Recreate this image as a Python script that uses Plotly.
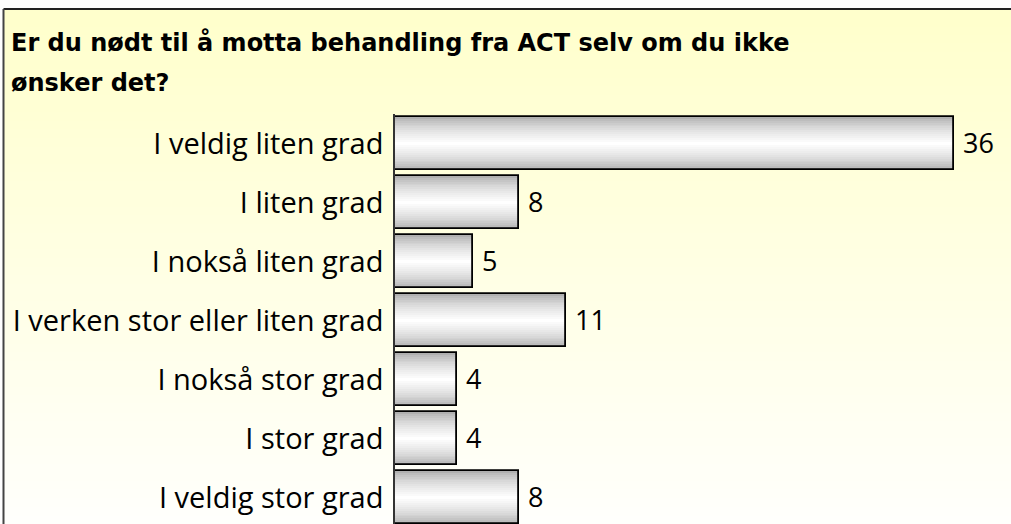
import plotly.graph_objects as go

categories = ["I veldig liten grad", "I liten grad", "I nokså liten grad",
              "I verken stor eller liten grad", "I nokså stor grad",
              "I stor grad", "I veldig stor grad"]
values = [36, 8, 5, 11, 4, 4, 8]
title_lines = ["Er du nødt til å motta behandling fra ACT selv om du ikke", "ønsker det?"]

W, H = 1011, 524
ML, MT = 395, 114
plot_w, plot_h = W - ML, H - MT
px_per_unit = 15.53
px_per_cat = 59

fig = go.Figure()

# gradient bars: layered bars from grey edge to white centre
N = 14
outer = 0.9
for k in range(N):
    frac = k / (N - 1)
    g = int(176 + (255 - 176) * (frac ** 0.7))
    fig.add_trace(go.Bar(
        y=categories, x=values, orientation="h",
        width=outer * (1 - k / N),
        marker=dict(color=f"rgb({g},{g},{g})", line=dict(width=0)),
        hoverinfo="skip", showlegend=False))

fig.add_trace(go.Bar(
    y=categories, x=values, orientation="h", width=outer,
    marker=dict(color="rgba(0,0,0,0)", line=dict(color="#000000", width=1.8)),
    text=values, texttemplate=" %{x}", textposition="outside",
    textfont=dict(family="Open Sans", size=27, color="#000000"),
    cliponaxis=False, showlegend=False))

# background gradient (yellow to white) + border
shapes = []
left_x = -ML / plot_w
bx = left_x + 3.5 / plot_w
n_bg = 60
y_start = 1 + (MT - 9) / plot_h  # border top in paper coords
for i in range(n_bg):
    y0 = y_start - y_start * i / n_bg
    y1 = y_start - y_start * (i + 1) / n_bg
    t = i / (n_bg - 1)
    b = int(204 + (252 - 204) * t)
    shapes.append(dict(type="rect", xref="paper", yref="paper",
                       x0=bx, x1=1.01, y0=y1 - 0.002, y1=y0,
                       fillcolor=f"rgb(255,255,{b})", line=dict(width=0), layer="below"))
shapes.append(dict(type="line", xref="paper", yref="paper",
                   x0=bx, x1=1.01, y0=y_start, y1=y_start,
                   line=dict(color="#222222", width=2)))
shapes.append(dict(type="line", xref="paper", yref="paper",
                   x0=bx, x1=bx, y0=-0.01, y1=y_start,
                   line=dict(color="#444444", width=2)))

annotations = []
for i, line in enumerate(title_lines):
    ypix = 42 + 41 * i
    annotations.append(dict(
        text=f"<b>{line}</b>", xref="paper", yref="paper",
        x=left_x + 9 / plot_w, y=1 + (MT - ypix) / plot_h,
        xanchor="left", yanchor="middle", showarrow=False,
        font=dict(family="DejaVu Sans", size=24, color="#000000")))

fig.update_layout(
    width=W, height=H,
    margin=dict(l=ML, r=0, t=MT, b=0, pad=0),
    paper_bgcolor="white", plot_bgcolor="rgba(0,0,0,0)",
    barmode="overlay", bargap=0,
    shapes=shapes, annotations=annotations,
    xaxis=dict(visible=False, range=[0, plot_w / px_per_unit], fixedrange=True),
    yaxis=dict(categoryorder="array", categoryarray=categories,
               range=[-0.5 + plot_h / px_per_cat, -0.5],
               showline=True, linecolor="#333333", linewidth=1.5,
               showgrid=False, ticks="", ticklabelstandoff=4, automargin=False,
               tickfont=dict(family="Open Sans", size=29, color="#000000")),
)

fig.write_html("out.html", config={"displayModeBar": False},
               post_script="document.body.style.margin='0';")
